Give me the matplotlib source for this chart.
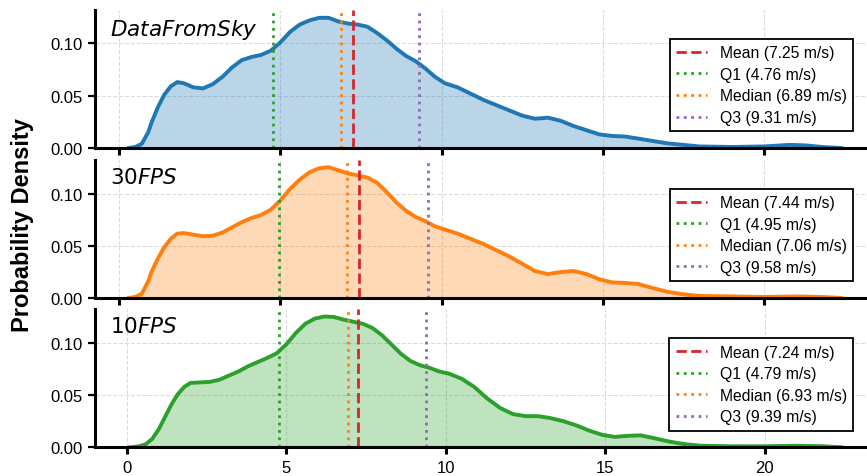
import matplotlib
matplotlib.use("Agg")
import matplotlib.pyplot as plt

plt.rcParams["font.family"] = ["Liberation Sans", "DejaVu Sans"]
plt.rcParams["mathtext.fontset"] = "dejavusans"

# Speed grid (m/s) and KDE densities
speed_dfs = [0.3, 0.5, 0.7, 0.9, 1.0, 1.2, 1.4, 1.6, 1.8, 2.0, 2.3, 2.6, 2.9, 3.2, 3.5, 3.8,
             4.1, 4.4, 4.7, 5.0, 5.3, 5.6, 5.9, 6.2, 6.5, 6.8, 7.1, 7.4, 7.7, 8.0, 8.3,
             8.6, 8.9, 9.2, 9.5, 9.8, 10.1, 10.5, 10.9, 11.3, 11.7, 12.1, 12.5, 12.9,
             13.3, 13.7, 14.1, 14.5, 14.9, 15.3, 15.7, 16.1, 16.5, 17.0, 17.5, 18.0,
             19.0, 20.0, 20.8, 21.3, 21.8, 22.4]
density_dfs = [0.0, 0.001, 0.004, 0.015, 0.024, 0.039, 0.051, 0.059, 0.063, 0.062, 0.058,
               0.057, 0.061, 0.068, 0.077, 0.084, 0.087, 0.089, 0.093, 0.101, 0.111, 0.118,
               0.122, 0.1245, 0.1245, 0.121, 0.119, 0.118, 0.116, 0.110, 0.103, 0.095,
               0.088, 0.083, 0.076, 0.068, 0.062, 0.058, 0.052, 0.046, 0.041, 0.036, 0.031,
               0.028, 0.029, 0.026, 0.021, 0.017, 0.013, 0.0115, 0.011, 0.009, 0.007,
               0.0045, 0.003, 0.0015, 0.001, 0.0015, 0.003, 0.0025, 0.001, 0.0]

speed_30 = [0.3, 0.5, 0.7, 0.9, 1.0, 1.2, 1.4, 1.6, 1.8, 2.0, 2.3, 2.6, 2.9, 3.2, 3.5, 3.8,
            4.1, 4.4, 4.7, 5.0, 5.3, 5.6, 5.9, 6.2, 6.5, 6.8, 7.1, 7.4, 7.7, 8.0, 8.3,
            8.6, 8.9, 9.2, 9.5, 9.8, 10.1, 10.5, 10.9, 11.3, 11.7, 12.1, 12.5, 12.9,
            13.3, 13.7, 14.1, 14.5, 14.9, 15.3, 15.7, 16.1, 16.5, 17.0, 17.5, 18.0,
            19.0, 20.0, 21.0, 21.8, 22.4]
density_30 = [0.0, 0.001, 0.004, 0.016, 0.025, 0.038, 0.049, 0.057, 0.062, 0.0625, 0.061,
              0.0595, 0.060, 0.063, 0.068, 0.073, 0.077, 0.080, 0.085, 0.094, 0.105, 0.114,
              0.121, 0.125, 0.126, 0.123, 0.120, 0.118, 0.116, 0.111, 0.102, 0.092, 0.084,
              0.078, 0.074, 0.069, 0.066, 0.062, 0.057, 0.052, 0.046, 0.040, 0.033, 0.026,
              0.023, 0.025, 0.026, 0.023, 0.018, 0.015, 0.0145, 0.0135, 0.010, 0.006,
              0.0035, 0.002, 0.0015, 0.001, 0.0015, 0.001, 0.0]

speed_10 = [0.1, 0.4, 0.6, 0.8, 1.0, 1.2, 1.4, 1.6, 1.8, 2.0, 2.3, 2.6, 2.9, 3.2, 3.5, 3.8,
            4.1, 4.4, 4.7, 5.0, 5.3, 5.6, 5.9, 6.2, 6.5, 6.8, 7.1, 7.4, 7.7, 8.0, 8.3,
            8.6, 8.9, 9.2, 9.5, 9.8, 10.1, 10.5, 10.9, 11.3, 11.7, 12.1, 12.5, 12.9,
            13.3, 13.7, 14.1, 14.5, 14.9, 15.3, 15.7, 16.1, 16.5, 17.0, 17.5, 18.0,
            19.0, 20.0, 21.0, 21.8, 22.4]
density_10 = [0.0, 0.001, 0.003, 0.008, 0.017, 0.029, 0.041, 0.051, 0.058, 0.062, 0.0625,
              0.063, 0.065, 0.069, 0.073, 0.078, 0.082, 0.086, 0.0905, 0.099, 0.110, 0.119,
              0.124, 0.126, 0.1255, 0.123, 0.121, 0.119, 0.115, 0.108, 0.099, 0.090, 0.083,
              0.079, 0.0765, 0.073, 0.071, 0.066, 0.058, 0.047, 0.038, 0.032, 0.030, 0.030,
              0.028, 0.025, 0.021, 0.016, 0.012, 0.010, 0.011, 0.0115, 0.009, 0.0055, 0.003,
              0.0015, 0.001, 0.001, 0.0015, 0.001, 0.0]

panel_names = [r"$DataFromSky$", r"$30FPS$", r"$10FPS$"]
panel_colors = ["tab:blue", "tab:orange", "tab:green"]
mean_vals = [7.25, 7.44, 7.24]
q1_vals = [4.76, 4.95, 4.79]
median_vals = [6.89, 7.06, 6.93]
q3_vals = [9.31, 9.58, 9.39]

speeds = [speed_dfs, speed_30, speed_10]
densities = [density_dfs, density_30, density_10]
xlims = [(-0.75, 23.2), (-0.75, 23.2), (-0.99, 23.2)]
ytops = [0.132, 0.133, 0.133]

fig = plt.figure(figsize=(8.67, 4.77), dpi=100)
bottoms = [0.6876, 0.3732, 0.0602]
height = 0.2894

for i in range(3):
    ax = fig.add_axes([0.1096, bottoms[i], 0.8904, height])
    c = panel_colors[i]
    ax.fill_between(speeds[i], densities[i], color=c, alpha=0.3, lw=0)
    ax.plot(speeds[i], densities[i], color=c, lw=2.8, solid_joinstyle="round")

    ax.axvline(mean_vals[i], color="tab:red", ls="--", lw=2,
               label=f"Mean ({mean_vals[i]:.2f} m/s)")
    ax.axvline(q1_vals[i], color="tab:green", ls=":", lw=2,
               label=f"Q1 ({q1_vals[i]:.2f} m/s)")
    ax.axvline(median_vals[i], color="tab:orange", ls=":", lw=2,
               label=f"Median ({median_vals[i]:.2f} m/s)")
    ax.axvline(q3_vals[i], color="tab:purple", ls=":", lw=2,
               label=f"Q3 ({q3_vals[i]:.2f} m/s)")

    ax.set_xlim(*xlims[i])
    ax.set_ylim(0, ytops[i])
    ax.set_xticks([0, 5, 10, 15, 20])
    ax.set_yticks([0.0, 0.05, 0.10])
    ax.set_yticklabels(["0.00", "0.05", "0.10"])
    if i < 2:
        ax.set_xticklabels([])
    ax.grid(True, ls="--", lw=0.8, color="#cccccc", alpha=0.7)
    ax.set_axisbelow(True)

    for side in ["top", "right"]:
        ax.spines[side].set_visible(False)
    for side in ["left", "bottom"]:
        ax.spines[side].set_linewidth(2.2)
        ax.spines[side].set_color("black")
    ax.tick_params(axis="x", length=5, width=2.2, labelsize=12, pad=4)
    ax.tick_params(axis="y", length=5, width=1.6, labelsize=12, pad=4)

    ax.text(0.02, 0.95, panel_names[i], transform=ax.transAxes,
            fontsize=15.5, va="top", ha="left")

    leg = ax.legend(loc="upper right", bbox_to_anchor=(0.982, 0.79),
                    borderaxespad=0, fontsize=11.3, labelspacing=0.42,
                    fancybox=False, framealpha=1, edgecolor="black")
    leg.get_frame().set_linewidth(1.3)

fig.text(0.026, 0.528, "Probability Density", rotation=90, va="center",
         ha="center", fontsize=17, fontweight="bold")

fig.savefig("out.png", dpi=100)
